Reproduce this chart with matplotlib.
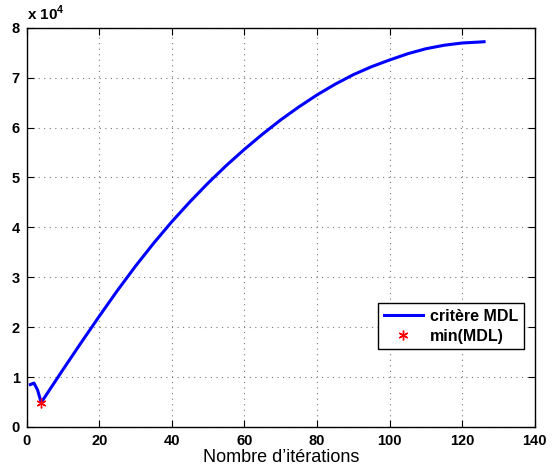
import numpy as np
import matplotlib
matplotlib.use("Agg")
import matplotlib.pyplot as plt
import matplotlib.ticker as mticker

plt.rcParams['font.family'] = ['Liberation Sans', 'DejaVu Sans']
plt.rcParams['mathtext.fontset'] = 'custom'
plt.rcParams['mathtext.rm'] = 'Liberation Sans:bold'
plt.rcParams['mathtext.bf'] = 'Liberation Sans:bold'

# MDL criterion (values in units of 1e4)
iterations = [1, 2, 3, 4, 5, 10, 15, 20, 25, 30, 35, 40, 45, 50, 55, 60, 65,
              70, 75, 80, 85, 90, 95, 100, 105, 110, 115, 120, 125, 126]
mdl = [0.85, 0.88, 0.74, 0.49, 0.60, 1.15, 1.69, 2.22, 2.735, 3.225, 3.685,
       4.115, 4.515, 4.89, 5.24, 5.565, 5.87, 6.155, 6.415, 6.655, 6.87, 7.06,
       7.22, 7.355, 7.48, 7.58, 7.65, 7.695, 7.715, 7.72]
mdl = [v * 1e4 for v in mdl]

i_min = int(np.argmin(mdl))

fig = plt.figure(figsize=(5.56, 4.73), dpi=100)
ax = fig.add_axes([0.048, 0.0973, 0.914, 0.844])

ax.plot(iterations, mdl, color='#0000ff', lw=2.2, label='critère MDL',
        solid_joinstyle='round')
ax.plot(iterations[i_min], mdl[i_min], ls='none', marker=(6, 2, 0),
        color='red', ms=7, mew=1.0, label='min(MDL)')

ax.set_xlim(0, 140)
ax.set_ylim(0, 8e4)
ax.set_xticks(range(0, 141, 20))
ax.set_yticks(np.arange(0, 8.1e4, 1e4))
ax.yaxis.set_major_formatter(mticker.FuncFormatter(lambda v, p: '%d' % round(v / 1e4)))

ax.grid(True, ls=(0, (1, 4)), color='#777777', lw=0.8)
ax.tick_params(direction='in', top=True, right=True, length=5,
               labelsize=10.5, pad=5)
for lab in ax.get_xticklabels() + ax.get_yticklabels():
    lab.set_fontweight('bold')
for s in ax.spines.values():
    s.set_linewidth(1.0)

ax.text(0.0, 1.012, r'x 10$^{4}$', transform=ax.transAxes, fontsize=11,
        fontweight='bold', ha='left', va='bottom')

ax.set_xlabel("Nombre d’itérations", fontsize=13, labelpad=1)

leg = ax.legend(loc='lower right', bbox_to_anchor=(0.978, 0.195),
                fancybox=False, edgecolor='black', framealpha=1,
                prop={'weight': 'bold', 'size': 11.5}, handlelength=2.5,
                borderpad=0.35, labelspacing=0.3, handletextpad=0.4,
                borderaxespad=0)
leg.get_frame().set_linewidth(1.0)

fig.savefig('out.png', dpi=100)
